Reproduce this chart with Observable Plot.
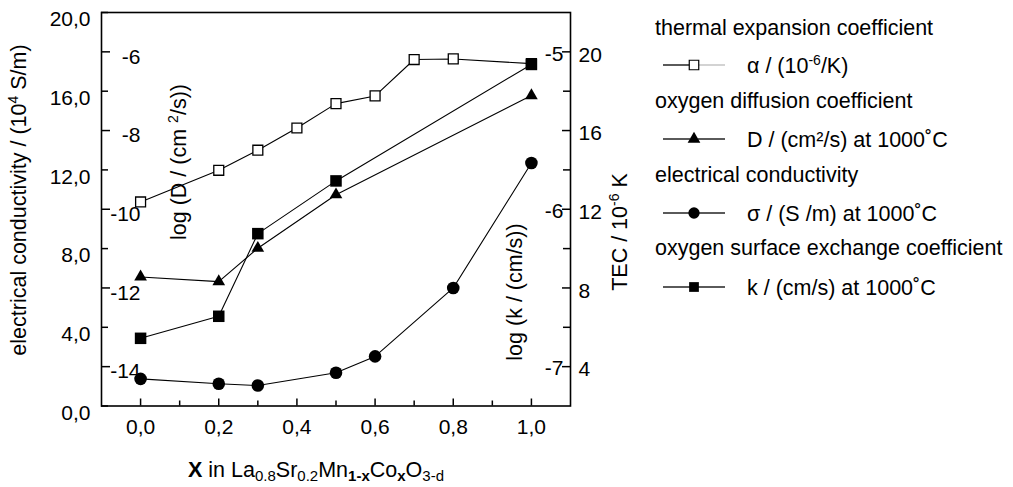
<!DOCTYPE html>
<html><head><meta charset="utf-8">
<script src="https://cdn.jsdelivr.net/npm/d3@7"></script>
<script src="https://cdn.jsdelivr.net/npm/@observablehq/plot@0.6"></script>
<style>
body{margin:0;background:#fff;font-family:"Liberation Sans",Arial,sans-serif;}
#wrap{width:1013px;height:487px;}
</style></head><body><div id="wrap"></div>
<script>
// ---- data ----
const sigmaX = [0.0, 0.2, 0.3, 0.5, 0.6, 0.8, 1.0];
const sigma  = [1.38, 1.13, 1.04, 1.69, 2.52, 6.0, 12.35];       // 10^4 S/m
const dX     = [0.0, 0.2, 0.3, 0.5, 1.0];
const logD   = [-11.72, -11.84, -10.99, -9.63, -7.11];            // log(cm²/s)
const kX     = [0.0, 0.2, 0.3, 0.5, 1.0];
const logK   = [-6.82, -6.68, -6.155, -5.82, -5.08];              // log(cm/s)
const tecX   = [0.0, 0.2, 0.3, 0.4, 0.5, 0.6, 0.7, 0.8, 1.0];
const tec    = [12.37, 13.98, 15.0, 16.13, 17.37, 17.76, 19.61, 19.64, 19.4]; // 10^-6/K

// tick labels
const condTicks = [0, 4, 8, 12, 16, 20];
const dTicks    = [-14, -12, -10, -8, -6];
const kTicks    = [-7, -6, -5];
const tecTicks  = [4, 8, 12, 16, 20];
const tecMinor  = [6, 10, 14, 18];
const xTicks    = [0, 0.2, 0.4, 0.6, 0.8, 1.0];
const xMinor    = [0.1, 0.3, 0.5, 0.7, 0.9];

// secondary axes expressed on the conductivity scale
const condOfD   = d => 18 + (d + 6) * 2;
const condOfK   = k => 18 + (k + 5) * 8;
const condOfTEC = t => t - 2;
const fmtComma  = d => d.toFixed(1).replace(".", ",");
const neg = d => (d < 0 ? "-" : "") + Math.abs(d);

const sigmaData = sigmaX.map((x, i) => ({x, y: sigma[i]}));
const dData     = dX.map((x, i) => ({x, y: condOfD(logD[i])}));
const kData     = kX.map((x, i) => ({x, y: condOfK(logK[i])}));
const tecData   = tecX.map((x, i) => ({x, y: condOfTEC(tec[i])}));

const FONT = "Liberation Sans, Arial, sans-serif";
const W = 1013, H = 487, ML = 101, MR = 443, MT = 12, MB = 81.5;
const FW = W - ML - MR, FH = H - MT - MB;   // frame size in px
const line = (data) => Plot.line(data, {x: "x", y: "y", stroke: "#000", strokeWidth: 1.1});
const tick = {stroke: "#000", strokeWidth: 1.5};

const chart = Plot.plot({
  width: W, height: H,
  marginLeft: ML, marginRight: MR, marginTop: MT, marginBottom: MB,
  x: {domain: [-0.1, 1.1]},
  y: {domain: [0, 20]},
  style: {fontFamily: FONT, fontSize: "21px", color: "#000", background: "#fff", overflow: "visible"},
  marks: [
    line(tecData), line(dData), line(kData), line(sigmaData),
    Plot.dot(tecData, {x: "x", y: "y", symbol: "square", r: 5.6, fill: "#fff", stroke: "#000", strokeWidth: 1.3}),
    Plot.dot(dData, {x: "x", y: "y", symbol: "triangle", r: 4.7, fill: "#000", stroke: "none"}),
    Plot.dot(sigmaData, {x: "x", y: "y", symbol: "circle", r: 6.3, fill: "#000", stroke: "none"}),
    Plot.dot(kData, {x: "x", y: "y", symbol: "square", r: 6.5, fill: "#000", stroke: "none"}),
    Plot.frame({stroke: "#000", strokeWidth: 1.6}),
    // inward ticks
    Plot.tickY(condTicks, {y: d => d, insetRight: FW - 7, ...tick}),
    Plot.tickY(dTicks, {y: condOfD, insetRight: FW - 9, ...tick}),
    Plot.tickY(tecTicks, {y: condOfTEC, insetLeft: FW - 8, ...tick}),
    Plot.tickY(tecMinor, {y: condOfTEC, insetLeft: FW - 7, ...tick}),
    Plot.tickX(xTicks, {x: d => d, insetTop: FH - 7, ...tick}),
    Plot.tickX(xMinor, {x: d => d, insetTop: FH - 5, ...tick}),
    // tick labels
    Plot.axisY({ticks: condTicks, tickSize: 0, tickPadding: 11, tickFormat: fmtComma, dy: 7, label: null}),
    Plot.axisX({ticks: xTicks, tickSize: 0, tickPadding: 13, tickFormat: fmtComma, label: null}),
    Plot.text(dTicks, {y: condOfD, text: neg, frameAnchor: "left", textAnchor: "end", dx: 39, dy: 5}),
    Plot.text(tecTicks, {y: condOfTEC, text: d => String(d), frameAnchor: "right", textAnchor: "start", dx: 8, dy: 3}),
    Plot.text(kTicks, {y: condOfK, text: neg, frameAnchor: "right", textAnchor: "end", dx: -7, dy: 2})
  ]
});
document.getElementById("wrap").appendChild(chart);

// ---- axis titles and legend (real SVG text) ----
const svg = d3.select(chart);
const g = svg.append("g").attr("font-family", FONT).attr("font-size", 21.5)
  .attr("fill", "#000").attr("text-anchor", "start");

function rich(sel, parts) {
  parts.forEach(p => {
    const t = sel.append("tspan").text(p.t);
    if (p.b) t.attr("font-weight", "bold");
    if (p.sup) t.attr("font-size", 14).attr("baseline-shift", "super");
    if (p.sub) t.attr("font-size", 15).attr("baseline-shift", "-4");
  });
}
function vlabel(x, y, parts) {
  const t = g.append("text").attr("transform", `translate(${x},${y}) rotate(-90)`).attr("text-anchor", "middle");
  rich(t, parts);
}
vlabel(26, 200, [{t: "electrical conductivity / (10"}, {t: "4", sup: true}, {t: " S/m)"}]);
vlabel(186, 162, [{t: "log (D / (cm "}, {t: "2", sup: true}, {t: "/s))"}]);
vlabel(522, 292, [{t: "log (k / (cm/s))"}]);
vlabel(627, 232, [{t: "TEC / 10"}, {t: "-6", sup: true}, {t: " K"}]);

const xl = g.append("text").attr("x", 188).attr("y", 477);
rich(xl, [{t: "X", b: true}, {t: " in La"}, {t: "0.8", sub: true}, {t: "Sr"}, {t: "0.2", sub: true},
          {t: "Mn"}, {t: "1-x", sub: true, b: true}, {t: "Co"}, {t: "x", sub: true, b: true}, {t: "O"}, {t: "3-d", sub: true}]);

// legend
const legend = [
  {title: "thermal expansion coefficient", label: [{t: "α / (10"}, {t: "-6", sup: true}, {t: "/K)"}], sym: d3.symbolSquare, size: 90, fill: "#fff", right: "#bbb"},
  {title: "oxygen diffusion coefficient", label: [{t: "D / (cm²/s) at 1000˚C"}], sym: d3.symbolTriangle, size: 70, fill: "#000", right: "#000"},
  {title: "electrical conductivity", label: [{t: "σ / (S /m) at 1000˚C"}], sym: d3.symbolCircle, size: 100, fill: "#000", right: "#000"},
  {title: "oxygen surface exchange coefficient", label: [{t: "k / (cm/s) at 1000˚C"}], sym: d3.symbolSquare, size: 95, fill: "#000", right: "#000"}
];
const titleBase = [35, 108, 182, 255];
const labelBase = [73, 147, 221, 295];
legend.forEach((e, i) => {
  g.append("text").attr("x", 655).attr("y", titleBase[i]).text(e.title);
  const cy = labelBase[i] - 8;
  g.append("line").attr("x1", 663).attr("x2", 690).attr("y1", cy).attr("y2", cy).attr("stroke", "#000").attr("stroke-width", 1.3);
  g.append("line").attr("x1", 698).attr("x2", 725).attr("y1", cy).attr("y2", cy).attr("stroke", e.right).attr("stroke-width", 1.3);
  g.append("path").attr("d", d3.symbol(e.sym, e.size)()).attr("transform", `translate(694,${cy})`)
    .attr("fill", e.fill).attr("stroke", e.fill === "#fff" ? "#000" : "none").attr("stroke-width", 1.2);
  const t = g.append("text").attr("x", 747).attr("y", labelBase[i]);
  rich(t, e.label);
});
</script></body></html>
